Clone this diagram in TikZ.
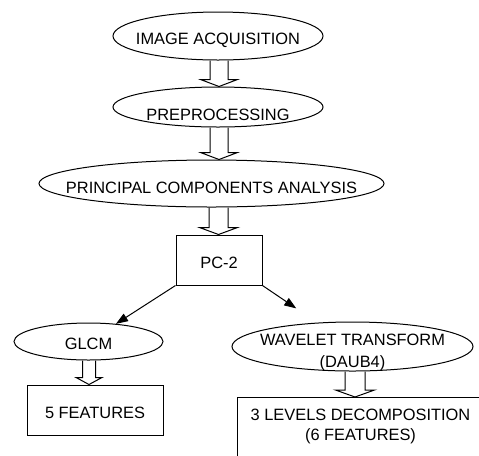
\documentclass[tikz,border=0pt]{standalone}
\usepackage{fontspec}
\setmainfont{Liberation Sans}
\usetikzlibrary{calc}
\usetikzlibrary{positioning}
\usetikzlibrary{shapes.geometric}
\usetikzlibrary{arrows.meta}
\tikzset{
  step_font/.style = {font=\fontsize{12.3}{14.6}\selectfont},
  step_text/.style = {step_font, text height=1.2em, text depth=0pt,
    inner sep=0pt},
  oval_node/.style = {ellipse, draw=black, line width=0.75pt, inner sep=0pt},
  box_node/.style = {rectangle, draw=black, line width=0.75pt, step_text},
  block_arrow/.style = {draw=black, line width=0.75pt, line join=miter},
  thin_arrow/.style = {draw=black, line width=0.75pt,
    -{Triangle[length=9pt,width=6.5pt]}}
}
\newcommand{\blockarrow}[5]{%
  \draw[block_arrow] ($(#3,0 |- #1.south)+(-#4,0)$)
    -- ($(#3,0 |- #2.north)+(-#4,-7)$) -- ($(#3,0 |- #2.north)+(-#5,-7)$)
    -- (#3,0 |- #2.north)
    -- ($(#3,0 |- #2.north)+(#5,-7)$) -- ($(#3,0 |- #2.north)+(#4,-7)$)
    -- ($(#3,0 |- #1.south)+(#4,0)$);
}

\begin{document}
\begin{tikzpicture}[x=0.75pt, y=-0.75pt]
  \useasboundingbox (0,0) rectangle (479,455);
  \clip (0,0) rectangle (479,455);
  \node[oval_node, minimum width=157.5pt, minimum height=36pt,
    label={[step_text]center:IMAGE ACQUISITION}] (acquisition) at (218,36) {};
  \node[oval_node, minimum width=157.5pt, minimum height=30pt,
    label={[step_text, yshift=-4pt]center:PREPROCESSING}] (preprocessing) at (218,107) {};
  \node[oval_node, minimum width=258.75pt, minimum height=35.25pt,
    label={[step_text, yshift=-1.5pt]center:PRINCIPAL COMPONENTS ANALYSIS}] (pca) at (211.5,183.5) {};
  \node[box_node, minimum width=64.5pt, minimum height=37.5pt] (pc2) at (219,260) {PC-2};
  \node[oval_node, minimum width=111.75pt, minimum height=27.75pt,
    label={[step_text]center:GLCM}] (glcm) at (88.5,341.5) {};
  \node[oval_node, minimum width=180.75pt, minimum height=36.75pt,
    label={[font=\fontsize{12.3}{16.5}\selectfont, align=center,
      inner sep=0pt, yshift=-4.3pt]center:WAVELET TRANSFORM\\(DAUB4)}] (wavelet) at (352.5,346.5) {};
  \node[box_node, minimum width=102pt, minimum height=37.5pt] (features) at (95,410) {5 FEATURES};
  \node[draw=black, line width=0.75pt, step_font, align=center, anchor=north west,
    inner xsep=0pt, inner ysep=9pt, minimum width=184.5pt, text depth=45pt]
    (levels) at (237,397) {3 LEVELS DECOMPOSITION\\(6 FEATURES)};

  \blockarrow{acquisition}{preprocessing}{219}{9}{18.5}
  \blockarrow{preprocessing}{pca}{219}{9}{18.5}
  \blockarrow{pca}{pc2}{218.5}{9.5}{19}
  \blockarrow{glcm}{features}{89}{6.5}{13}
  \blockarrow{wavelet}{levels}{355}{10}{19.5}
  \draw[thin_arrow] (pc2.south west) -- (glcm);
  \draw[thin_arrow, shorten >=19pt] (pc2.south east) -- (wavelet);
\end{tikzpicture}
\end{document}
